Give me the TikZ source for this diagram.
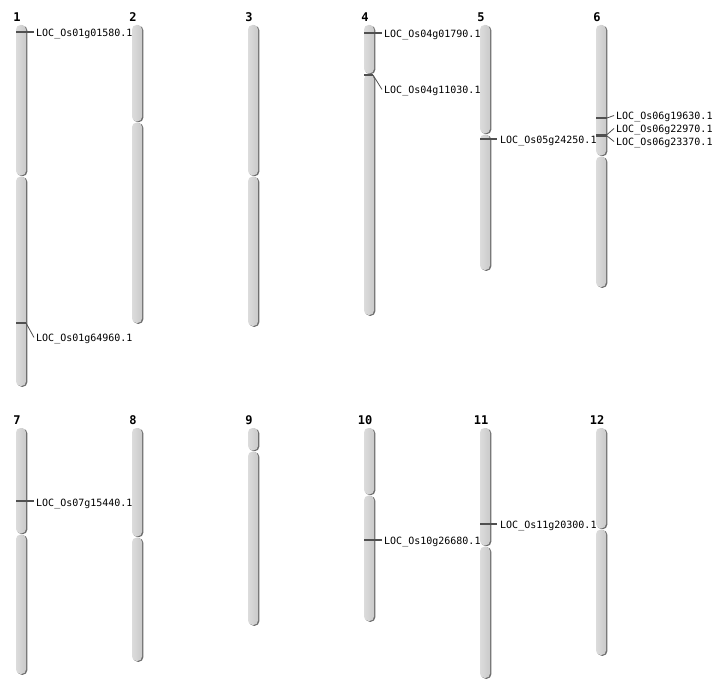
\documentclass[tikz,border=0pt]{standalone}
\usepackage{fontspec}
\setmonofont{DejaVu Sans Mono}
\definecolor{chrlight}{HTML}{DCDCDC}
\definecolor{chrdark}{HTML}{CACACA}
\definecolor{shadowgray}{HTML}{6E6E6E}
\definecolor{markgray}{HTML}{505050}
\newcommand\drawchr[5]{%
  % #1 number, #2 x centre, #3 top, #4 centromere, #5 bottom
  \fill[shadowgray,rounded corners=4.5] (#2-3.8,#3+0.7) rectangle (#2+6.3,#4+0.2);
  \fill[shadowgray,rounded corners=4.5] (#2-3.8,#4+1.2) rectangle (#2+6.3,#5+0.8);
  \shade[left color=chrlight,right color=chrdark,rounded corners=4.5] (#2-5,#3) rectangle (#2+5,#4-0.6);
  \shade[left color=chrlight,right color=chrdark,rounded corners=4.5] (#2-5,#4+0.6) rectangle (#2+5,#5);
  \node[num] (n#1) at (#2-4,#3-8) {#1};
}
\begin{document}
\begin{tikzpicture}[x=1pt,y=-1pt,
  lbl/.style={anchor=west,inner sep=0pt,font=\ttfamily\fontsize{10}{12}\selectfont},
  num/.style={inner sep=0pt,font=\ttfamily\bfseries\fontsize{12}{14}\selectfont},
  genemark/.style={draw=markgray,line width=1.3pt},
  link/.style={draw=markgray,line width=0.8pt}]
\useasboundingbox[fill=white] (0,0) rectangle (712,700);
% chromosomes
\drawchr{1}{21}{25}{176}{386}
\drawchr{2}{137}{25}{122}{323}
\drawchr{3}{253}{25}{176}{326}
\drawchr{4}{369}{25}{74}{315}
\drawchr{5}{485}{25}{134}{270}
\drawchr{6}{601}{25}{156}{287}
\drawchr{7}{21}{428}{534}{674}
\drawchr{8}{137}{428}{537}{661}
\drawchr{9}{253}{428}{451}{625}
\drawchr{10}{369}{428}{495}{621}
\drawchr{11}{485}{428}{546}{678}
\drawchr{12}{601}{428}{529}{655}
% marker positions
\coordinate (m1a) at (16,32);   \coordinate (m1aE) at (34,32);
\coordinate (m1b) at (16,323);  \coordinate (m1bE) at (26,323);
\coordinate (m4a) at (364,33);  \coordinate (m4aE) at (382,33);
\coordinate (m4b) at (364,75);  \coordinate (m4bE) at (373,75);
\coordinate (m5a) at (480,139); \coordinate (m5aE) at (497,139);
\coordinate (m6a) at (596,118); \coordinate (m6aE) at (607,118);
\coordinate (m6b) at (596,134.6); \coordinate (m6bE) at (607,134.6);
\coordinate (m6c) at (596,136); \coordinate (m6cE) at (607,136);
\coordinate (m7a) at (16,501);  \coordinate (m7aE) at (34,501);
\coordinate (m10a) at (364,540); \coordinate (m10aE) at (382,540);
\coordinate (m11a) at (480,524); \coordinate (m11aE) at (497,524);
% labels
\node[lbl] (l1a) at (36,34) {LOC\_Os01g01580.1};
\node[lbl] (l1b) at (36,339) {LOC\_Os01g64960.1};
\node[lbl] (l4a) at (384,35) {LOC\_Os04g01790.1};
\node[lbl] (l4b) at (384,91) {LOC\_Os04g11030.1};
\node[lbl] (l5a) at (500,141) {LOC\_Os05g24250.1};
\node[lbl] (l6a) at (616,117) {LOC\_Os06g19630.1};
\node[lbl] (l6b) at (616,130) {LOC\_Os06g22970.1};
\node[lbl] (l6c) at (616,143) {LOC\_Os06g23370.1};
\node[lbl] (l7a) at (36,504) {LOC\_Os07g15440.1};
\node[lbl] (l10a) at (384,542) {LOC\_Os10g26680.1};
\node[lbl] (l11a) at (500,526) {LOC\_Os11g20300.1};
% markers and connectors
\draw[genemark] (m1a) -- (m1aE);
\draw[genemark] (m1b) -- (m1bE);
\draw[link] (m1bE) -- ([xshift=-2pt,yshift=1.5pt]l1b.west);
\draw[genemark] (m4a) -- (m4aE);
\draw[genemark] (m4b) -- (m4bE);
\draw[link] (m4bE) -- ([xshift=-2pt,yshift=1.5pt]l4b.west);
\draw[genemark] (m5a) -- (m5aE);
\draw[genemark] (m6a) -- (m6aE);
\draw[link] (m6aE) -- ([xshift=-2pt,yshift=1.5pt]l6a.west);
\draw[genemark,line width=1.6pt] (m6b) -- (m6bE);
\draw[genemark,line width=1.6pt] (m6c) -- (m6cE);
\draw[link] (m6bE) -- ([xshift=-2pt,yshift=1.5pt]l6b.west);
\draw[link] (m6cE) -- ([xshift=-2pt,yshift=1.5pt]l6c.west);
\draw[genemark] (m7a) -- (m7aE);
\draw[genemark] (m10a) -- (m10aE);
\draw[genemark] (m11a) -- (m11aE);
\end{tikzpicture}
\end{document}
